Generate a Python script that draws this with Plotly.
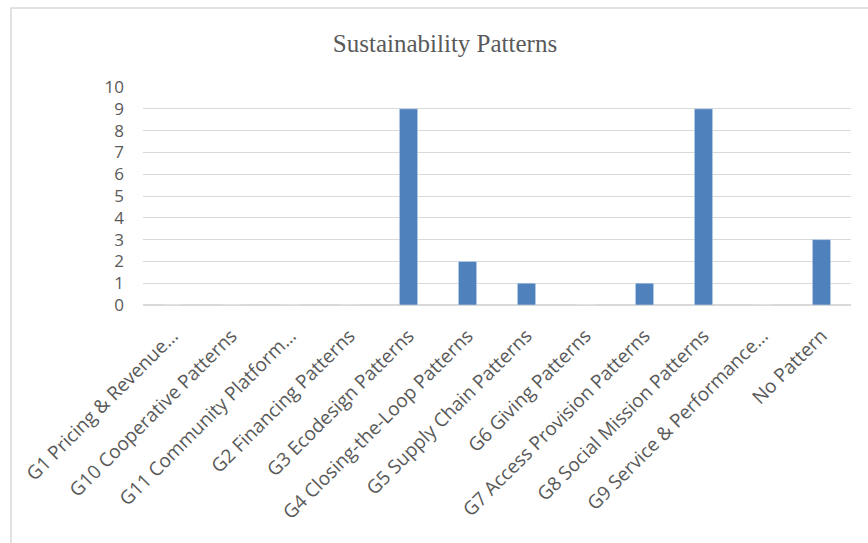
import plotly.graph_objects as go

categories = [
    "G1 Pricing & Revenue…",
    "G10 Cooperative Patterns",
    "G11 Community Platform…",
    "G2 Financing Patterns",
    "G3 Ecodesign Patterns",
    "G4 Closing-the-Loop Patterns",
    "G5 Supply Chain Patterns",
    "G6 Giving Patterns",
    "G7 Access Provision Patterns",
    "G8 Social Mission Patterns",
    "G9 Service & Performance…",
    "No Pattern",
]
values = [0, 0, 0, 0, 9, 2, 1, 0, 1, 9, 0, 3]
y_ticks = list(range(0, 11))

W, H = 868, 543
L, R, T, B = 143, 17, 87, 238
pw, ph = W - L - R, H - T - B


def px_x(p):
    return (p - L) / pw


def px_y(p):
    return (H - B - p) / ph


fig = go.Figure(go.Bar(x=categories, y=values, marker_color="#4F81BD", width=0.31))

fig.update_layout(
    width=W, height=H,
    margin=dict(l=L, r=R, t=T, b=B, autoexpand=False),
    paper_bgcolor="white", plot_bgcolor="white",
    showlegend=False,
    title=dict(text="Sustainability Patterns", x=445 / W, xref="container", xanchor="center",
               y=1 - 43 / H, yref="container", yanchor="middle",
               font=dict(family="Liberation Serif", size=25, color="#595959")),
    font=dict(family="Open Sans", color="#595959"),
)
fig.update_xaxes(tickangle=-45, tickfont=dict(size=19, color="#595959"), showline=False,
                 showgrid=False, ticks="", ticklabelstandoff=15, automargin=False)
fig.update_yaxes(range=[0, 10], tickvals=y_ticks, tickfont=dict(size=17, color="#595959"),
                 showgrid=True, gridcolor="#d9d9d9", gridwidth=1.3, zeroline=True,
                 zerolinecolor="#d9d9d9", zerolinewidth=1.5, ticks="", ticklen=0,
                 ticklabelstandoff=18, automargin=False)

# chart frame
fig.add_shape(type="rect", xref="paper", yref="paper",
              x0=px_x(11), x1=px_x(W + 20), y0=px_y(H + 20), y1=px_y(8),
              line=dict(color="#d9d9d9", width=1.5), fillcolor="rgba(0,0,0,0)", layer="below")

fig.write_html("out.html")
